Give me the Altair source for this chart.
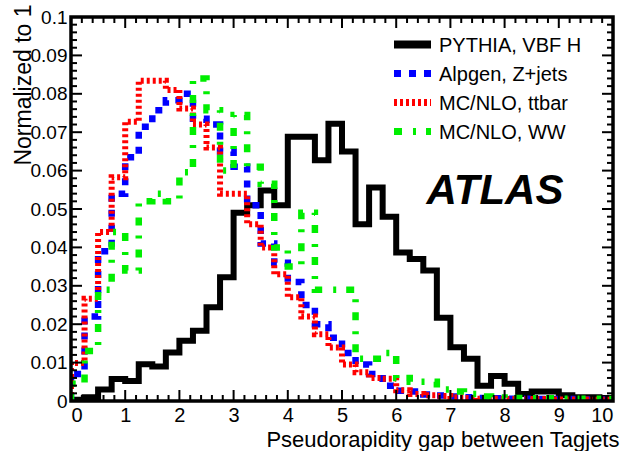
import altair as alt
import pandas as pd

# ---------------- data (normalized step histograms, 40 bins of 0.25) ----------------
bin_left = [i * 0.25 for i in range(40)]
x_end = 10.0

pythia_vbf_h = [0.0003, 0.001, 0.003, 0.0057, 0.0052, 0.0096, 0.009, 0.0126, 0.0157, 0.0183,
                0.0244, 0.0322, 0.049, 0.051, 0.0548, 0.051, 0.0688, 0.0688, 0.0627, 0.0722,
                0.065, 0.046, 0.0556, 0.048, 0.0387, 0.037, 0.034, 0.0217, 0.014, 0.011,
                0.004, 0.0065, 0.0045, 0.0018, 0.0025, 0.0025, 0.0015, 0.001, 0.001, 0.0008]
alpgen_zjets = [0.007, 0.022, 0.039, 0.054, 0.0635, 0.0714, 0.0757, 0.0783, 0.080, 0.0735,
                0.072, 0.065, 0.061, 0.051, 0.041, 0.036, 0.031, 0.025, 0.020, 0.0165,
                0.0125, 0.0095, 0.007, 0.004, 0.0027, 0.0025, 0.0017, 0.0014, 0.0012, 0.001,
                0.0008, 0.0007, 0.0006, 0.0006, 0.0005, 0.0005, 0.0005, 0.0004, 0.0004, 0.0004]
mcnlo_ttbar = [0.0099, 0.0266, 0.044, 0.0583, 0.0727, 0.0834, 0.0834, 0.081, 0.0762, 0.072,
               0.066, 0.054, 0.054, 0.046, 0.040, 0.033, 0.027, 0.022, 0.0174, 0.0139,
               0.0095, 0.0075, 0.006, 0.0058, 0.0028, 0.0018, 0.0015, 0.0013, 0.001, 0.0008,
               0.0006, 0.0006, 0.0005, 0.0005, 0.0005, 0.0004, 0.0004, 0.0004, 0.0003, 0.0003]
mcnlo_ww = [0.0045, 0.013, 0.029, 0.044, 0.034, 0.052, 0.054, 0.052, 0.0596, 0.084,
            0.0757, 0.060, 0.0745, 0.061, 0.0566, 0.040, 0.035, 0.049, 0.029, 0.029,
            0.029, 0.011, 0.011, 0.0125, 0.006, 0.005, 0.005, 0.003, 0.0025, 0.0018,
            0.0012, 0.0009, 0.0008, 0.0008, 0.0007, 0.0007, 0.0006, 0.0006, 0.0006, 0.0005]

series_names = ["PYTHIA, VBF H", "Alpgen, Z+jets", "MC/NLO, ttbar", "MC/NLO, WW"]
series_values = [pythia_vbf_h, alpgen_zjets, mcnlo_ttbar, mcnlo_ww]

x_major = [0, 1, 2, 3, 4, 5, 6, 7, 8, 9, 10]
x_minor = [round(i * 0.2, 2) for i in range(51) if i % 5 != 0]
y_major = [0, 0.01, 0.02, 0.03, 0.04, 0.05, 0.06, 0.07, 0.08, 0.09, 0.1]
y_minor = [round(i * 0.002, 4) for i in range(51) if i % 5 != 0]

# ---------------- styles ----------------
W, H = 542, 384
FONT = "Liberation Sans"
colors = ["#000000", "#0000ff", "#ff0000", "#00ee00"]
widths = [6, 6.5, 6, 6.5]
dashes = [None, [7, 8], [3, 3], [8, 11, 3, 10]]

xs = alt.Scale(domain=[0, 10], nice=False, zero=False)
ys = alt.Scale(domain=[0, 0.1], nice=False, zero=False)

x_axis = alt.Axis(values=x_major, ticks=False, domain=False, grid=False,
                  labelFontSize=20, labelPadding=4, labelColor="black", labelFont=FONT,
                  title="Pseudorapidity gap between Tagjets", titleFontSize=22,
                  titleFontWeight="normal", titleFont=FONT, titleColor="black",
                  titleX=W + 6, titleY=45, titleAlign="right", titleBaseline="alphabetic",
                  titleAngle=0)
y_axis = alt.Axis(values=y_major, ticks=False, domain=False, grid=False,
                  labelExpr="datum.value == 0 ? '0' : format(datum.value, '.2~f')",
                  labelFontSize=19, labelPadding=4, labelColor="black", labelFont=FONT,
                  title="Normalized to 1", titleFontSize=23, titleFontWeight="normal",
                  titleFont=FONT, titleColor="black", titleAngle=270,
                  titleX=-41, titleY=-13, titleAlign="right", titleBaseline="alphabetic")

layers = []
one = pd.DataFrame({"a": [0]})

# histogram step lines
for k, (name, vals) in enumerate(zip(series_names, series_values)):
    df = pd.DataFrame({
        "x": [0.0] + bin_left + [x_end],
        "y": [0.0] + vals + [vals[-1]],
        "i": list(range(len(vals) + 2)),
    })
    mk = dict(interpolate="step-after", color=colors[k], strokeWidth=widths[k],
              strokeCap="butt", strokeJoin="miter", clip=True)
    if dashes[k] is not None:
        mk["strokeDash"] = dashes[k]
    layers.append(
        alt.Chart(df).mark_line(**mk).encode(
            x=alt.X("x:Q", scale=xs, axis=x_axis),
            y=alt.Y("y:Q", scale=ys, axis=y_axis),
            order="i:Q",
        )
    )

# inward ticks on all four sides
def xticks(vals, length):
    d = pd.DataFrame({"x": vals})
    bottom = alt.Chart(d).mark_rule(color="black", strokeWidth=2).encode(
        x=alt.X("x:Q", scale=xs, axis=x_axis), y=alt.value(H), y2=alt.value(H - length))
    top = alt.Chart(d).mark_rule(color="black", strokeWidth=2).encode(
        x=alt.X("x:Q", scale=xs, axis=x_axis), y=alt.value(0), y2=alt.value(length))
    return [bottom, top]

def yticks(vals, length):
    d = pd.DataFrame({"y": vals})
    left = alt.Chart(d).mark_rule(color="black", strokeWidth=2).encode(
        y=alt.Y("y:Q", scale=ys, axis=y_axis), x=alt.value(0), x2=alt.value(length))
    right = alt.Chart(d).mark_rule(color="black", strokeWidth=2).encode(
        y=alt.Y("y:Q", scale=ys, axis=y_axis), x=alt.value(W), x2=alt.value(W - length))
    return [left, right]

layers += xticks(x_major, 11) + xticks(x_minor, 6)
layers += yticks(y_major, 11) + yticks(y_minor, 6)

# frame
layers.append(alt.Chart(one).mark_rect(fillOpacity=0, stroke="black", strokeWidth=3.5).encode(
    x=alt.value(0), x2=alt.value(W), y=alt.value(0), y2=alt.value(H)))

# legend (manual, top right)
for k, name in enumerate(series_names):
    yy = 27.5 + k * 29
    mk = dict(color=colors[k], strokeWidth=8 if k == 0 else 7, strokeCap="butt")
    if dashes[k] is not None:
        mk["strokeDash"] = dashes[k]
    layers.append(alt.Chart(one).mark_rule(**mk).encode(
        x=alt.value(323), x2=alt.value(360), y=alt.value(yy)))
    layers.append(alt.Chart(one).mark_text(
        align="left", baseline="middle", fontSize=20, font=FONT, color="black").encode(
        x=alt.value(368), y=alt.value(yy + 1), text=alt.value(name)))

# ATLAS label
layers.append(alt.Chart(one).mark_text(
    align="center", baseline="middle", fontSize=42, font=FONT, fontWeight="bold",
    fontStyle="italic", color="black").encode(
    x=alt.value(424), y=alt.value(174), text=alt.value("ATLAS")))

chart = alt.layer(*layers).properties(
    width=W, height=H,
    padding={"left": 71, "top": 17, "right": 10, "bottom": 50},
    autosize=alt.AutoSizeParams(type="none"),
    background="white",
).configure_view(stroke=None).configure(font=FONT)

chart.save("out.html", embed_options={"renderer": "svg", "actions": False})
